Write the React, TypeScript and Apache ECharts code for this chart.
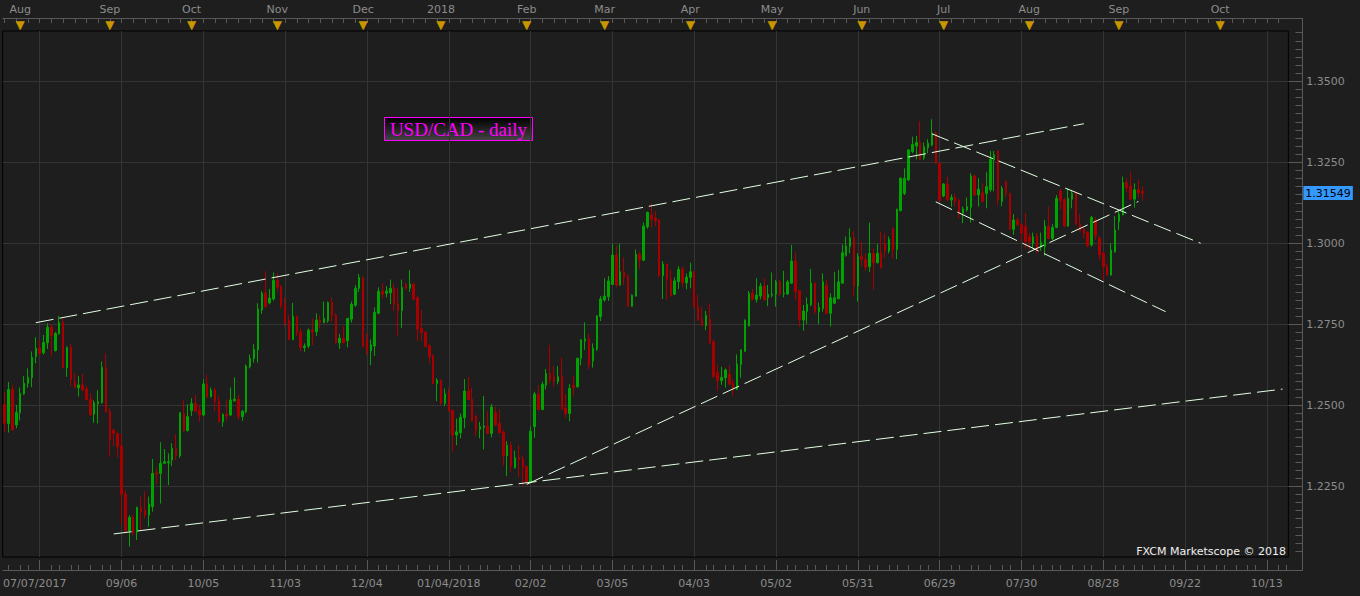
import React, { useEffect, useRef } from "react";
import * as echarts from "echarts";

// ---- categories (trading days, then calendar days for the empty future area)
const firstBarDate = "2017-07-26";
const lastBarDate = "2018-09-11";
const lastAxisDate = "2018-10-18";
const closedDays = ["2017-12-25", "2018-01-01"];

// ---- tick labels
const monthLabels = ["Aug", "Sep", "Oct", "Nov", "Dec", "2018", "Feb", "Mar", "Apr", "May", "Jun", "Jul", "Aug", "Sep", "Oct"];
const bottomLabels = ["07/07/2017", "09/06", "10/05", "11/03", "12/04", "01/04/2018", "02/02", "03/05", "04/03", "05/02", "05/31", "06/29", "07/30", "08/28", "09/22", "10/13"];
const bottomLabelStart = 9;
const bottomLabelStep = 21;
const minorTickOffsets = [3, 5, 8, 10, 13, 16, 18];
const priceLabels = [1.225, 1.25, 1.275, 1.3, 1.325, 1.35];
const priceMin = 1.20318;
const priceMax = 1.36552;
const lastPrice = 1.31549;

// ---- daily candles [open, close, low, high]
const ohlc2017a = [
  [1.2503, 1.2444, 1.2416, 1.2541], [1.2444, 1.2549, 1.2416, 1.2572], [1.2549, 1.2424, 1.2422, 1.2563], [1.2439, 1.2478, 1.2429, 1.2501],
  [1.2477, 1.2537, 1.2453, 1.2555], [1.2535, 1.2568, 1.2532, 1.2590], [1.2568, 1.2586, 1.2554, 1.2614], [1.2585, 1.2648, 1.2556, 1.2666],
  [1.2650, 1.2676, 1.2630, 1.2710], [1.2677, 1.2660, 1.2653, 1.2702], [1.2662, 1.2694, 1.2657, 1.2717], [1.2693, 1.2741, 1.2674, 1.2753],
  [1.2741, 1.2715, 1.2653, 1.2751], [1.2669, 1.2722, 1.2666, 1.2726], [1.2721, 1.2756, 1.2718, 1.2776], [1.2756, 1.2616, 1.2614, 1.2768],
  [1.2616, 1.2679, 1.2588, 1.2681], [1.2679, 1.2580, 1.2558, 1.2689], [1.2572, 1.2555, 1.2553, 1.2599], [1.2554, 1.2563, 1.2527, 1.2590],
  [1.2563, 1.2547, 1.2545, 1.2597], [1.2550, 1.2518, 1.2516, 1.2560], [1.2518, 1.2470, 1.2468, 1.2537], [1.2472, 1.2508, 1.2446, 1.2516],
  [1.2505, 1.2511, 1.2444, 1.2547], [1.2508, 1.2617, 1.2506, 1.2635], [1.2617, 1.2480, 1.2477, 1.2660], [1.2482, 1.2393, 1.2341, 1.2491],
  [1.2424, 1.2413, 1.2375, 1.2426], [1.2413, 1.2372, 1.2339, 1.2416], [1.2374, 1.2225, 1.2134, 1.2411], [1.2225, 1.2113, 1.2105, 1.2239],
  [1.2112, 1.2154, 1.2064, 1.2161], [1.2154, 1.2107, 1.2099, 1.2161], [1.2109, 1.2185, 1.2084, 1.2187], [1.2185, 1.2172, 1.2115, 1.2218],
  [1.2175, 1.2161, 1.2151, 1.2235], [1.2161, 1.2195, 1.2125, 1.2218], [1.2187, 1.2290, 1.2172, 1.2334], [1.2292, 1.2288, 1.2256, 1.2305],
  [1.2290, 1.2321, 1.2197, 1.2386], [1.2321, 1.2326, 1.2319, 1.2365], [1.2322, 1.2326, 1.2254, 1.2352], [1.2331, 1.2367, 1.2313, 1.2383],
  [1.2367, 1.2344, 1.2331, 1.2411], [1.2344, 1.2477, 1.2338, 1.2480], [1.2475, 1.2422, 1.2419, 1.2516], [1.2422, 1.2465, 1.2419, 1.2503],
  [1.2483, 1.2506, 1.2467, 1.2522], [1.2506, 1.2482, 1.2480, 1.2532], [1.2485, 1.2470, 1.2449, 1.2501], [1.2470, 1.2566, 1.2467, 1.2581],
  [1.2566, 1.2525, 1.2523, 1.2594], [1.2527, 1.2547, 1.2524, 1.2555], [1.2547, 1.2511, 1.2482, 1.2555], [1.2513, 1.2449, 1.2447, 1.2527],
  [1.2449, 1.2472, 1.2434, 1.2475], [1.2472, 1.2467, 1.2453, 1.2518], [1.2470, 1.2516, 1.2468, 1.2555], [1.2514, 1.2519, 1.2512, 1.2586],
  [1.2519, 1.2465, 1.2455, 1.2532], [1.2465, 1.2482, 1.2452, 1.2485], [1.2480, 1.2621, 1.2475, 1.2626], [1.2619, 1.2645, 1.2614, 1.2657],
  [1.2644, 1.2673, 1.2632, 1.2689], [1.2671, 1.2797, 1.2632, 1.2815],
];
const ohlc2017b = [
  [1.2794, 1.2846, 1.2782, 1.2852], [1.2847, 1.2804, 1.2802, 1.2914], [1.2816, 1.2831, 1.2812, 1.2859], [1.2828, 1.2886, 1.2823, 1.2910],
  [1.2886, 1.2864, 1.2853, 1.2907], [1.2866, 1.2807, 1.2799, 1.2871], [1.2809, 1.2755, 1.2742, 1.2832], [1.2761, 1.2703, 1.2701, 1.2778],
  [1.2703, 1.2775, 1.2701, 1.2816], [1.2775, 1.2724, 1.2714, 1.2777], [1.2726, 1.2678, 1.2667, 1.2737], [1.2678, 1.2683, 1.2665, 1.2691],
  [1.2683, 1.2732, 1.2676, 1.2737], [1.2732, 1.2726, 1.2686, 1.2768], [1.2727, 1.2763, 1.2714, 1.2784], [1.2763, 1.2755, 1.2737, 1.2778],
  [1.2755, 1.2768, 1.2753, 1.2820], [1.2761, 1.2817, 1.2755, 1.2820], [1.2817, 1.2776, 1.2758, 1.2833], [1.2778, 1.2693, 1.2691, 1.2784],
  [1.2693, 1.2707, 1.2674, 1.2720], [1.2707, 1.2693, 1.2691, 1.2744], [1.2699, 1.2768, 1.2679, 1.2770], [1.2766, 1.2812, 1.2755, 1.2820],
  [1.2809, 1.2861, 1.2804, 1.2871], [1.2861, 1.2895, 1.2850, 1.2905], [1.2895, 1.2681, 1.2679, 1.2897], [1.2701, 1.2668, 1.2655, 1.2722],
  [1.2668, 1.2686, 1.2624, 1.2703], [1.2683, 1.2787, 1.2652, 1.2802], [1.2784, 1.2852, 1.2781, 1.2864], [1.2852, 1.2843, 1.2830, 1.2876],
  [1.2846, 1.2852, 1.2833, 1.2868], [1.2847, 1.2861, 1.2812, 1.2888], [1.2861, 1.2812, 1.2792, 1.2876], [1.2814, 1.2792, 1.2714, 1.2863],
  [1.2792, 1.2864, 1.2739, 1.2888], [1.2873, 1.2861, 1.2856, 1.2878], [1.2861, 1.2874, 1.2850, 1.2917], [1.2874, 1.2827, 1.2825, 1.2878],
  [1.2832, 1.2735, 1.2699, 1.2837], [1.2737, 1.2724, 1.2699, 1.2794], [1.2726, 1.2681, 1.2679, 1.2728], [1.2683, 1.2650, 1.2629, 1.2691],
  [1.2652, 1.2567, 1.2565, 1.2658], [1.2567, 1.2578, 1.2513, 1.2583], [1.2578, 1.2506, 1.2501, 1.2580], [1.2506, 1.2535, 1.2498, 1.2552],
  [1.2535, 1.2482, 1.2480, 1.2554], [1.2485, 1.2408, 1.2357, 1.2487], [1.2408, 1.2418, 1.2377, 1.2459], [1.2415, 1.2463, 1.2398, 1.2475],
  [1.2462, 1.2544, 1.2429, 1.2581], [1.2544, 1.2518, 1.2516, 1.2588], [1.2519, 1.2452, 1.2450, 1.2554], [1.2467, 1.2423, 1.2405, 1.2469],
  [1.2426, 1.2434, 1.2398, 1.2449], [1.2432, 1.2436, 1.2364, 1.2529], [1.2436, 1.2413, 1.2411, 1.2482], [1.2413, 1.2495, 1.2401, 1.2504],
  [1.2477, 1.2439, 1.2436, 1.2495], [1.2444, 1.2415, 1.2413, 1.2488], [1.2418, 1.2344, 1.2315, 1.2423], [1.2344, 1.2377, 1.2282, 1.2389],
  [1.2377, 1.2313, 1.2295, 1.2387], [1.2307, 1.2338, 1.2305, 1.2360], [1.2338, 1.2333, 1.2279, 1.2377], [1.2334, 1.2310, 1.2252, 1.2346],
  [1.2312, 1.2262, 1.2259, 1.2314], [1.2262, 1.2420, 1.2259, 1.2434], [1.2434, 1.2535, 1.2400, 1.2542], [1.2535, 1.2487, 1.2485, 1.2562],
  [1.2487, 1.2565, 1.2485, 1.2573], [1.2562, 1.2598, 1.2549, 1.2612], [1.2598, 1.2578, 1.2567, 1.2686], [1.2588, 1.2573, 1.2557, 1.2621],
  [1.2573, 1.2588, 1.2565, 1.2621], [1.2590, 1.2488, 1.2486, 1.2647], [1.2492, 1.2475, 1.2462, 1.2535], [1.2475, 1.2552, 1.2451, 1.2565],
];
const ohlc2018a = [
  [1.2561, 1.2555, 1.2530, 1.2590], [1.2557, 1.2645, 1.2555, 1.2647], [1.2645, 1.2702, 1.2624, 1.2704], [1.2698, 1.2705, 1.2671, 1.2756],
  [1.2705, 1.2624, 1.2611, 1.2722], [1.2637, 1.2676, 1.2616, 1.2691], [1.2673, 1.2776, 1.2668, 1.2778], [1.2774, 1.2828, 1.2760, 1.2837],
  [1.2825, 1.2837, 1.2820, 1.2892], [1.2835, 1.2884, 1.2822, 1.2899], [1.2873, 1.2964, 1.2871, 1.2998], [1.2964, 1.2871, 1.2864, 1.2993],
  [1.2871, 1.2912, 1.2869, 1.2998], [1.2912, 1.2895, 1.2871, 1.2957], [1.2897, 1.2806, 1.2804, 1.2905], [1.2806, 1.2840, 1.2804, 1.2842],
  [1.2837, 1.2966, 1.2835, 1.2981], [1.2966, 1.2948, 1.2921, 1.2974], [1.2948, 1.3053, 1.2945, 1.3064], [1.3051, 1.3095, 1.3045, 1.3098],
  [1.3087, 1.3074, 1.3048, 1.3123], [1.3078, 1.3069, 1.3053, 1.3100], [1.3072, 1.2900, 1.2895, 1.3074], [1.2900, 1.2936, 1.2828, 1.2945],
  [1.2936, 1.2889, 1.2825, 1.2938], [1.2889, 1.2840, 1.2835, 1.2918], [1.2843, 1.2884, 1.2840, 1.2895], [1.2882, 1.2920, 1.2859, 1.2930],
  [1.2920, 1.2878, 1.2866, 1.2928], [1.2878, 1.2895, 1.2858, 1.2907], [1.2895, 1.2912, 1.2861, 1.2940], [1.2912, 1.2804, 1.2801, 1.2915],
  [1.2806, 1.2763, 1.2761, 1.2842], [1.2766, 1.2746, 1.2744, 1.2802], [1.2746, 1.2777, 1.2732, 1.2791], [1.2765, 1.2693, 1.2689, 1.2815],
  [1.2696, 1.2588, 1.2586, 1.2702], [1.2601, 1.2576, 1.2545, 1.2624], [1.2576, 1.2586, 1.2563, 1.2619], [1.2585, 1.2609, 1.2554, 1.2614],
  [1.2596, 1.2565, 1.2563, 1.2624], [1.2568, 1.2550, 1.2530, 1.2578], [1.2549, 1.2627, 1.2547, 1.2657], [1.2626, 1.2671, 1.2585, 1.2673],
  [1.2667, 1.2763, 1.2665, 1.2765], [1.2745, 1.2846, 1.2743, 1.2853], [1.2846, 1.2827, 1.2825, 1.2859], [1.2827, 1.2840, 1.2817, 1.2892],
  [1.2837, 1.2868, 1.2827, 1.2878], [1.2868, 1.2825, 1.2823, 1.2892], [1.2832, 1.2843, 1.2806, 1.2871], [1.2840, 1.2843, 1.2833, 1.2910],
  [1.2843, 1.2881, 1.2804, 1.2887], [1.2881, 1.2844, 1.2837, 1.2887], [1.2844, 1.2846, 1.2833, 1.2915], [1.2844, 1.2881, 1.2840, 1.2887],
  [1.2877, 1.2945, 1.2875, 1.2995], [1.2945, 1.2851, 1.2825, 1.2971], [1.2854, 1.2765, 1.2743, 1.2856], [1.2763, 1.2791, 1.2730, 1.2810],
  [1.2789, 1.2812, 1.2751, 1.2833], [1.2810, 1.2877, 1.2806, 1.2921], [1.2877, 1.2789, 1.2782, 1.2879], [1.2789, 1.2802, 1.2751, 1.2817],
  [1.2799, 1.2881, 1.2789, 1.2907], [1.2871, 1.2784, 1.2782, 1.2887], [1.2784, 1.2832, 1.2743, 1.2846], [1.2815, 1.2832, 1.2812, 1.2912],
  [1.2829, 1.2881, 1.2827, 1.2918], [1.2877, 1.2971, 1.2875, 1.2997], [1.2962, 1.2992, 1.2959, 1.3021], [1.2990, 1.3017, 1.2969, 1.3046],
  [1.3017, 1.2868, 1.2835, 1.3038], [1.2868, 1.2959, 1.2820, 1.2969], [1.2959, 1.2950, 1.2928, 1.3005], [1.2950, 1.2926, 1.2915, 1.2969],
  [1.2928, 1.2969, 1.2912, 1.3064], [1.2969, 1.2940, 1.2856, 1.2984], [1.2940, 1.2969, 1.2938, 1.2998], [1.2969, 1.2925, 1.2921, 1.3036],
  [1.3000, 1.2976, 1.2956, 1.3031], [1.2976, 1.3012, 1.2969, 1.3021],
];
const ohlc2018b = [
  [1.3046, 1.2981, 1.2954, 1.3048], [1.2981, 1.3105, 1.2951, 1.3107], [1.3101, 1.3201, 1.3098, 1.3203], [1.3154, 1.3201, 1.3149, 1.3231],
  [1.3195, 1.3288, 1.3193, 1.3290], [1.3283, 1.3305, 1.3278, 1.3329], [1.3300, 1.3311, 1.3259, 1.3331], [1.3311, 1.3259, 1.3257, 1.3377],
  [1.3264, 1.3298, 1.3257, 1.3311], [1.3295, 1.3309, 1.3278, 1.3321], [1.3303, 1.3339, 1.3300, 1.3383], [1.3339, 1.3247, 1.3245, 1.3345],
  [1.3247, 1.3132, 1.3130, 1.3249], [1.3146, 1.3183, 1.3142, 1.3185], [1.3183, 1.3134, 1.3131, 1.3206], [1.3134, 1.3141, 1.3113, 1.3151],
  [1.3141, 1.3129, 1.3113, 1.3154], [1.3132, 1.3095, 1.3077, 1.3139], [1.3093, 1.3106, 1.3062, 1.3113], [1.3103, 1.3113, 1.3098, 1.3141],
  [1.3111, 1.3208, 1.3064, 1.3216], [1.3208, 1.3149, 1.3147, 1.3211], [1.3149, 1.3167, 1.3113, 1.3201], [1.3156, 1.3129, 1.3127, 1.3185],
  [1.3154, 1.3175, 1.3108, 1.3221], [1.3165, 1.3259, 1.3159, 1.3285], [1.3257, 1.3273, 1.3161, 1.3285], [1.3285, 1.3136, 1.3118, 1.3287],
  [1.3129, 1.3170, 1.3115, 1.3177], [1.3190, 1.3154, 1.3142, 1.3193], [1.3154, 1.3043, 1.3041, 1.3156], [1.3043, 1.3072, 1.3026, 1.3090],
  [1.3072, 1.3057, 1.3053, 1.3080], [1.3057, 1.3031, 1.3005, 1.3062], [1.3051, 1.3005, 1.2984, 1.3093], [1.3020, 1.3005, 1.2981, 1.3031],
  [1.3000, 1.3020, 1.2984, 1.3033], [1.3023, 1.2979, 1.2969, 1.3033], [1.2988, 1.3002, 1.2977, 1.3033], [1.2990, 1.3053, 1.2962, 1.3072],
  [1.3053, 1.3015, 1.3012, 1.3113], [1.3015, 1.3049, 1.3010, 1.3059], [1.3049, 1.3139, 1.3046, 1.3149], [1.3162, 1.3132, 1.3105, 1.3167],
  [1.3135, 1.3053, 1.3051, 1.3139], [1.3053, 1.3139, 1.3051, 1.3170], [1.3136, 1.3154, 1.3108, 1.3165], [1.3156, 1.3059, 1.3057, 1.3161],
  [1.3059, 1.3039, 1.3037, 1.3090], [1.3043, 1.3031, 1.3015, 1.3051], [1.3035, 1.2992, 1.2988, 1.3037], [1.2995, 1.3080, 1.2990, 1.3084],
  [1.3072, 1.3023, 1.3010, 1.3080], [1.3017, 1.2964, 1.2948, 1.3020], [1.2969, 1.2928, 1.2887, 1.2974], [1.2930, 1.2902, 1.2900, 1.2938],
  [1.2902, 1.2979, 1.2900, 1.3000], [1.2974, 1.3041, 1.2971, 1.3084], [1.3067, 1.3090, 1.3041, 1.3100], [1.3088, 1.3187, 1.3086, 1.3206],
  [1.3187, 1.3173, 1.3159, 1.3201], [1.3177, 1.3136, 1.3133, 1.3221], [1.3136, 1.3165, 1.3110, 1.3185], [1.3165, 1.3156, 1.3142, 1.3195],
  [1.3161, 1.31549, 1.3132, 1.3175],
];

// ---- hand-drawn trend lines: [bar index, price] end points
const trendUpperLong = [[8, 1.2755], [277, 1.3369]];
const trendLowerLong = [[28, 1.2103], [328, 1.2550]];
const trendFebSupport = [[134, 1.2256], [291, 1.3129]];
const channelTop = [[238, 1.3338], [307, 1.3000]];
const channelBottom = [[239, 1.3128], [298, 1.2789]];

function buildDates(): string[] {
  const out: string[] = [];
  const d = new Date(firstBarDate + "T00:00:00Z");
  const endBars = new Date(lastBarDate + "T00:00:00Z").getTime();
  const endAxis = new Date(lastAxisDate + "T00:00:00Z").getTime();
  while (d.getTime() <= endAxis) {
    const iso = d.toISOString().slice(0, 10);
    const dow = d.getUTCDay();
    if (d.getTime() > endBars) out.push(iso);
    else if (dow !== 0 && dow !== 6 && closedDays.indexOf(iso) < 0) out.push(iso);
    d.setUTCDate(d.getUTCDate() + 1);
  }
  return out;
}

const FONT = "DejaVu Sans";
const LABEL = "#8c8c8c";
const AXIS = "#585858";
const GRIDLINE = "#343434";
const TREND = "#e2ffe2";

export default function App() {
  const ref = useRef<HTMLDivElement>(null);
  useEffect(() => {
    if (!ref.current) return;
    const chart = echarts.init(ref.current, undefined, { renderer: "svg" });
    const dates = buildDates();
    const candles = [...ohlc2017a, ...ohlc2017b, ...ohlc2018a, ...ohlc2018b];
    const monthStarts: number[] = [];
    for (let i = 1; i < dates.length; i++) {
      if (dates[i].slice(0, 7) !== dates[i - 1].slice(0, 7)) monthStarts.push(i);
    }
    const isMonth = (i: number) => monthStarts.indexOf(i) >= 0;
    const isMajor = (i: number) => i >= bottomLabelStart && (i - bottomLabelStart) % bottomLabelStep === 0;
    const isMinor = (i: number) => {
      const r = (((i - bottomLabelStart) % bottomLabelStep) + bottomLabelStep) % bottomLabelStep;
      return minorTickOffsets.indexOf(r) >= 0;
    };
    const minorPrices: number[] = [];
    for (let k = 0; k <= 64; k++) minorPrices.push(Math.round((1.205 + k * 0.0025) * 10000) / 10000);

    const trend = (data: number[][]) => ({
      type: "line",
      xAxisIndex: 0,
      yAxisIndex: 0,
      data,
      symbol: "none",
      silent: true,
      z: 5,
      lineStyle: { color: TREND, width: 1, type: [18, 6] },
    });

    const option: any = {
      animation: false,
      backgroundColor: "#1e1e1e",
      textStyle: { fontFamily: FONT },
      grid: {
        left: 1.35,
        top: 31,
        width: 1287,
        height: 526,
        show: true,
        borderColor: "#000",
        borderWidth: 1,
        backgroundColor: "transparent",
      },
      xAxis: [
        {
          type: "category",
          data: dates,
          boundaryGap: true,
          position: "bottom",
          offset: 13,
          axisLine: { show: true, lineStyle: { color: AXIS } },
          axisTick: { show: true, inside: true, length: 10, alignWithLabel: true, interval: (i: number) => isMajor(i), lineStyle: { color: AXIS } },
          axisLabel: {
            interval: (i: number) => isMajor(i),
            formatter: (_v: string, i: number) => {
              const k = (i - bottomLabelStart) / bottomLabelStep;
              const t = bottomLabels[k] || "";
              return k === 0 ? "{first|" + t + "}" : t;
            },
            color: LABEL,
            fontFamily: FONT,
            fontSize: 11,
            margin: 8,
            rich: { first: { color: LABEL, fontFamily: FONT, fontSize: 11, padding: [0, 10, 0, 0] } },
          },
          splitLine: { show: true, alignWithLabel: true, interval: (i: number) => isMajor(i), lineStyle: { color: GRIDLINE } },
        },
        {
          type: "category",
          data: dates,
          position: "bottom",
          offset: 13,
          axisLine: { show: false },
          axisTick: { show: true, inside: true, length: 5, alignWithLabel: true, interval: (i: number) => isMinor(i), lineStyle: { color: AXIS } },
          axisLabel: { show: false },
          splitLine: { show: false },
        },
        {
          type: "category",
          data: dates,
          position: "top",
          offset: 13,
          axisLine: { show: true, lineStyle: { color: AXIS } },
          axisTick: { show: true, inside: true, length: 5, alignWithLabel: true, interval: (i: number) => i % 3 === 0, lineStyle: { color: AXIS } },
          axisLabel: {
            interval: (i: number) => isMonth(i),
            formatter: (_v: string, i: number) => monthLabels[monthStarts.indexOf(i)] || "",
            color: LABEL,
            fontFamily: FONT,
            fontSize: 11,
            margin: 3,
          },
          splitLine: { show: false },
        },
        {
          type: "category",
          data: dates,
          position: "top",
          offset: 0,
          axisLine: { show: false },
          axisTick: { show: true, inside: false, length: 3, alignWithLabel: true, interval: (i: number) => isMonth(i), lineStyle: { color: "#000" } },
          axisLabel: {
            interval: (i: number) => isMonth(i),
            formatter: () => "▼",
            color: "#c89600",
            fontFamily: FONT,
            fontSize: 12,
            margin: 0,
          },
          splitLine: { show: false },
        },
      ],
      yAxis: [
        {
          type: "value",
          position: "right",
          offset: 14,
          min: priceMin,
          max: priceMax,
          axisLine: { show: true, lineStyle: { color: AXIS } },
          axisTick: { show: true, inside: true, length: 14, customValues: priceLabels, lineStyle: { color: AXIS } },
          axisLabel: {
            customValues: priceLabels,
            formatter: (v: number) => v.toFixed(4),
            color: LABEL,
            fontFamily: FONT,
            fontSize: 11,
            margin: 4,
          },
          splitLine: { show: true, lineStyle: { color: GRIDLINE } },
        },
        {
          type: "value",
          position: "right",
          offset: 14,
          min: priceMin,
          max: priceMax,
          axisLine: { show: false },
          axisTick: { show: true, inside: true, length: 7, customValues: minorPrices, lineStyle: { color: AXIS } },
          axisLabel: { show: false },
          splitLine: { show: false },
        },
        {
          type: "value",
          position: "right",
          offset: 14,
          min: priceMin,
          max: priceMax,
          axisLine: { show: false },
          axisTick: { show: false },
          axisLabel: {
            customValues: [lastPrice],
            formatter: (v: number) => v.toFixed(5),
            color: "#000",
            backgroundColor: "#3399ff",
            padding: [2, 2, 1, 2],
            fontFamily: FONT,
            fontSize: 11,
            margin: 1,
          },
          splitLine: { show: false },
        },
      ],
      series: [
        {
          type: "candlestick",
          xAxisIndex: 0,
          yAxisIndex: 0,
          data: candles,
          barWidth: 2,
          itemStyle: {
            color: "#00a300",
            color0: "#a80000",
            borderColor: "#00a300",
            borderColor0: "#a80000",
            borderWidth: 1,
          },
          z: 3,
        },
        trend(trendUpperLong),
        trend(trendLowerLong),
        trend(trendFebSupport),
        trend(channelTop),
        trend(channelBottom),
      ],
      graphic: [
        { type: "line", silent: true, shape: { x1: 1288, y1: 18.5, x2: 1303, y2: 18.5 }, style: { stroke: AXIS, lineWidth: 1 } },
        { type: "line", silent: true, shape: { x1: 1302.5, y1: 18, x2: 1302.5, y2: 571 }, style: { stroke: AXIS, lineWidth: 1 } },
        { type: "line", silent: true, shape: { x1: 1288, y1: 570.5, x2: 1303, y2: 570.5 }, style: { stroke: AXIS, lineWidth: 1 } },
        {
          type: "group",
          x: 384.5,
          y: 117.5,
          z: 10,
          children: [
            {
              type: "rect",
              shape: { x: 0, y: 0, width: 148, height: 23 },
              style: {
                fill: new echarts.graphic.LinearGradient(0, 0, 0, 1, [
                  { offset: 0, color: "#000000" },
                  { offset: 1, color: "#444444" },
                ]),
                stroke: "#ff00ff",
                lineWidth: 1,
              },
            },
            {
              type: "text",
              x: 74,
              y: 12,
              style: {
                text: "USD/CAD - daily",
                font: '19px "Liberation Serif"',
                fill: "#ff00ff",
                align: "center",
                verticalAlign: "middle",
                textAlign: "center",
                textVerticalAlign: "middle",
              },
            },
          ],
        },
        {
          type: "text",
          x: 1286,
          y: 551,
          z: 10,
          style: {
            text: "FXCM Marketscope © 2018",
            font: '11px "DejaVu Sans"',
            fill: "#eeeeee",
            align: "right",
            verticalAlign: "middle",
            textAlign: "right",
            textVerticalAlign: "middle",
          },
        },
      ],
    };
    chart.setOption(option);
    return () => chart.dispose();
  }, []);
  return <div ref={ref} style={{ position: "absolute", left: 0, top: 0, width: 1360, height: 596 }} />;
}
